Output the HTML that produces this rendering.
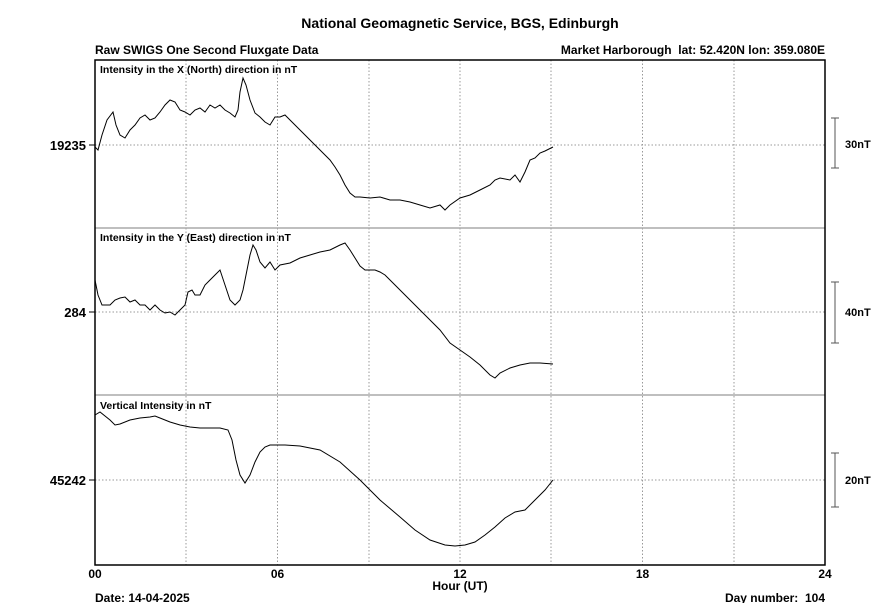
<!DOCTYPE html><html><head><style>body{margin:0;background:#fff}svg text{font-family:"Liberation Sans",Arial,sans-serif;font-weight:bold;fill:#000;white-space:pre}</style></head><body>
<svg width="878" height="603" viewBox="0 0 878 603" xmlns="http://www.w3.org/2000/svg">
<text x="460" y="28" font-size="14" text-anchor="middle">National Geomagnetic Service, BGS, Edinburgh</text>
<text x="95" y="54" font-size="12">Raw SWIGS One Second Fluxgate Data</text>
<text x="825" y="54" font-size="12" text-anchor="end">Market Harborough&#160; lat: 52.420N lon: 359.080E</text>
<g stroke="#999" stroke-dasharray="1.5,2" stroke-width="1">
<line x1="186" y1="60" x2="186" y2="565"/><line x1="277.5" y1="60" x2="277.5" y2="565"/><line x1="369" y1="60" x2="369" y2="565"/><line x1="460" y1="60" x2="460" y2="565"/><line x1="551" y1="60" x2="551" y2="565"/><line x1="642.5" y1="60" x2="642.5" y2="565"/><line x1="734" y1="60" x2="734" y2="565"/>
<line x1="95" y1="145" x2="825" y2="145"/><line x1="95" y1="312" x2="825" y2="312"/><line x1="95" y1="480" x2="825" y2="480"/>
</g>
<g stroke="#aaa" stroke-width="1.5"><line x1="95" y1="228" x2="825" y2="228"/><line x1="95" y1="395" x2="825" y2="395"/></g>
<rect x="95" y="60" width="730" height="505" fill="none" stroke="#000" stroke-width="1.5"/>
<g stroke="#000"><line x1="89" y1="145" x2="95" y2="145"/><line x1="89" y1="312" x2="95" y2="312"/><line x1="89" y1="480" x2="95" y2="480"/></g>
<g font-size="13" text-anchor="end"><text x="86" y="150">19235</text><text x="86" y="317">284</text><text x="86" y="485">45242</text></g>
<g font-size="10.5"><text x="100" y="73">Intensity in the X (North) direction in nT</text><text x="100" y="241">Intensity in the Y (East) direction in nT</text><text x="100" y="409">Vertical Intensity in nT</text></g>
<g stroke="#555" fill="none"><path d="M835 118V168M831 118H839M831 168H839"/><path d="M835 282V343M831 282H839M831 343H839"/><path d="M835 453V507M831 453H839M831 507H839"/></g>
<g font-size="11"><text x="845" y="148">30nT</text><text x="845" y="316">40nT</text><text x="845" y="484">20nT</text></g>
<g font-size="12" text-anchor="middle"><text x="95" y="578">00</text><text x="277.5" y="578">06</text><text x="460" y="578">12</text><text x="642.5" y="578">18</text><text x="825" y="578">24</text><text x="460" y="590">Hour (UT)</text></g>
<text x="95" y="602" font-size="12">Date: 14-04-2025</text><text x="825" y="602" font-size="12" text-anchor="end">Day number:&#160; 104</text>
<g fill="none" stroke="#000" stroke-width="1">
<polyline points="95,147 98,150 102,135 107,120 113,112 116,125 120,135 125,138 130,130 135,125 140,118 145,115 150,120 155,118 160,112 165,105 170,100 175,102 180,110 185,112 190,115 195,110 200,108 205,112 210,105 215,108 220,105 225,110 230,113 235,117 238,110 240,92 243,78 246,85 250,100 255,113 260,117 265,122 270,125 275,117 280,117 285,115 290,120 295,125 300,130 305,135 310,140 315,145 320,150 325,155 330,160 335,167 340,175 345,185 350,193 355,197 360,197 370,198 380,197 390,200 400,200 410,202 420,205 430,208 440,205 445,210 450,205 460,198 470,195 480,190 490,185 495,180 500,178 510,180 515,175 520,182 525,172 530,160 535,158 540,153 545,151 553,147"/>
<polyline points="95,280 98,295 102,305 110,305 115,300 120,298 125,297 130,302 135,300 140,305 145,305 150,310 155,305 160,310 165,313 170,312 175,315 180,310 185,305 188,292 192,290 195,295 200,295 205,285 210,280 215,275 220,270 225,285 230,300 235,305 240,300 243,290 246,275 250,255 253,245 256,250 260,262 265,268 270,262 275,270 280,265 290,263 300,258 310,255 320,252 330,250 340,245 345,243 350,250 355,258 360,266 365,270 375,270 380,272 385,275 390,280 400,290 410,300 420,310 430,320 440,330 450,343 460,350 470,357 480,365 490,375 495,378 500,373 510,368 520,365 530,363 540,363 553,364"/>
<polyline points="95,415 100,412 110,420 115,425 120,424 130,420 140,418 150,417 155,416 160,418 170,422 180,425 190,427 200,428 210,428 220,428 228,430 232,440 236,460 240,475 245,483 250,475 255,462 260,452 265,447 270,445 285,445 300,446 320,450 340,462 360,480 380,500 400,517 415,530 430,540 445,545 455,546 465,545 475,542 485,535 495,527 505,518 515,512 525,510 535,500 545,490 553,480"/>
</g>
</svg></body></html>
